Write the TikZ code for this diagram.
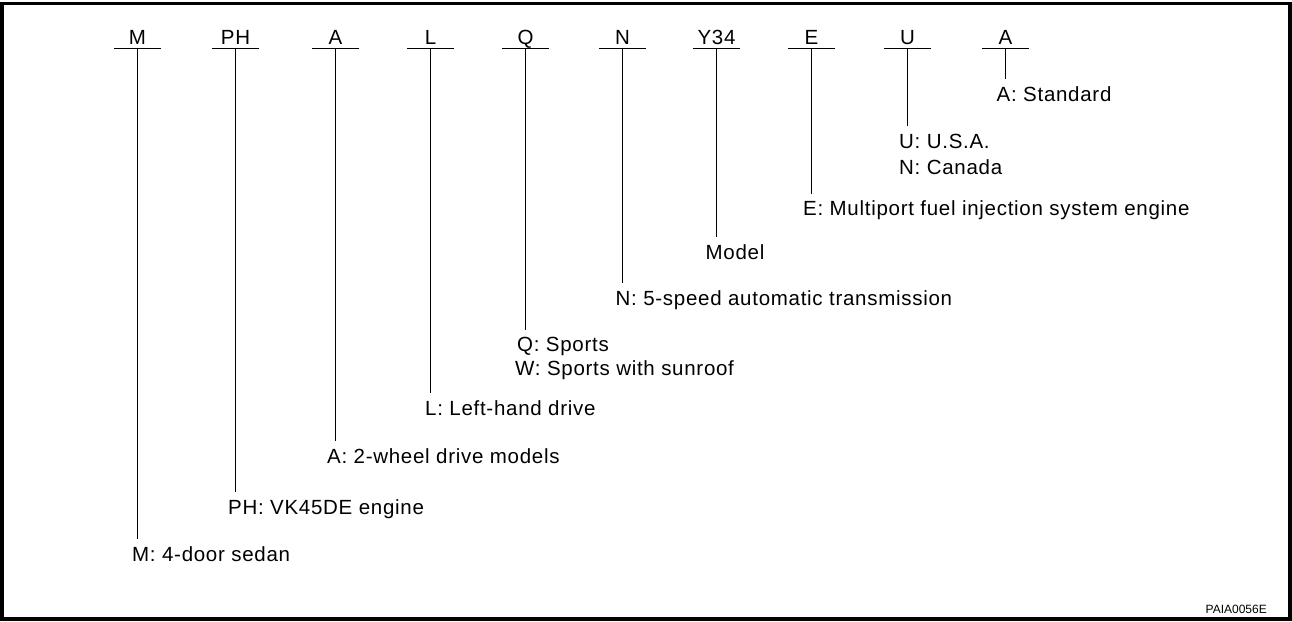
\documentclass[tikz,border=0pt]{standalone}
\usepackage{fontspec}
\setmainfont{Liberation Sans}
\newfontfamily\labfont[LetterSpace=3.5]{Liberation Sans}
\newfontfamily\smallfont{Liberation Sans}
\begin{document}
\begin{tikzpicture}[x=1pt,y=-1pt,
  code/.style={anchor=base,inner xsep=0pt,inner ysep=0pt,text depth=0pt,
    outer ysep=4.5pt,minimum width=46pt,font=\labfont\fontsize{20.5}{24}\selectfont},
  desc/.style={anchor=base west,inner xsep=0pt,inner ysep=0pt,text height=14pt,
    text depth=0pt,outer ysep=8pt,font=\labfont\fontsize{20.5}{24}\selectfont},
  bar/.style={line width=1.8pt},
  stem/.style={line width=1.3pt}]
\useasboundingbox (0,0) rectangle (1292,621);
\draw[line width=3.6pt] (2,3.3) rectangle (1290,619);

% code letters
\node[code] (cM)  at (137.5,44) {M};
\node[code] (cPH) at (235.5,44) {PH};
\node[code] (cA)  at (335.5,44) {A};
\node[code] (cL)  at (430.5,44) {L};
\node[code] (cQ)  at (525.5,44) {Q};
\node[code] (cN)  at (622.5,44) {N};
\node[code] (cY)  at (716.5,44) {Y34};
\node[code] (cE)  at (811.5,44) {E};
\node[code] (cU)  at (907.5,44) {U};
\node[code] (cS)  at (1005.5,44) {A};

% descriptions
\node[desc] (dM)  at (132,561)   {M: 4-door sedan};
\node[desc] (dPH) at (228,514)   {PH: VK45DE engine};
\node[desc] (dA)  at (327,463.3) {A: 2-wheel drive models};
\node[desc] (dL)  at (425,415)   {L: Left-hand drive};
\node[desc] (dQ)  at (517,351.7) {Q: Sports};
\node[desc] (dQb) at (515,375)   {W: Sports with sunroof};
\node[desc] (dN)  at (615.5,305) {N: 5-speed automatic transmission};
\node[desc] (dY)  at (705.5,259) {Model};
\node[desc] (dE)  at (803,215.7) {E: Multiport fuel injection system engine};
\node[desc] (dU)  at (899,148.3) {U: U.S.A.};
\node[desc] (dUb) at (899,174.3) {N: Canada};
\node[desc] (dS)  at (996.5,101) {A: Standard};

% bars and stems
\foreach \c/\d in {cM/dM,cPH/dPH,cA/dA,cL/dL,cQ/dQ,cN/dN,cY/dY,cE/dE,cU/dU,cS/dS}{
  \draw[bar] (\c.south west) -- (\c.south east);
  \draw[stem] (\c.south) -- (\d.north -| \c.south);
}

\node[anchor=base east,inner sep=0pt,font=\smallfont\fontsize{12}{14}\selectfont] (ref) at (1267,613) {PAIA0056E};
\end{tikzpicture}
\end{document}
